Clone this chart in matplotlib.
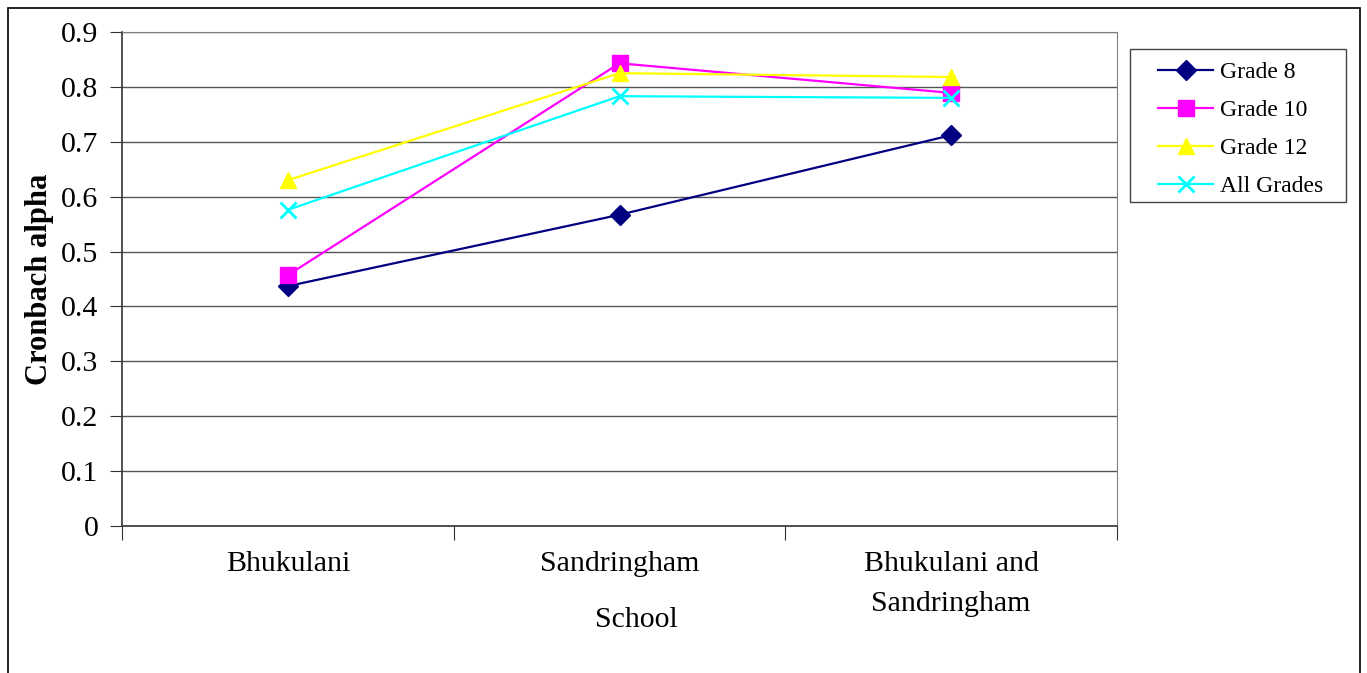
import matplotlib.pyplot as plt
from matplotlib.patches import Rectangle
import numpy as np

plt.rcParams['font.family'] = ['Liberation Serif', 'DejaVu Serif']

schools = ["Bhukulani", "Sandringham", "Bhukulani and\nSandringham"]
grade8 = [0.437, 0.567, 0.712]
grade10 = [0.457, 0.843, 0.789]
grade12 = [0.630, 0.825, 0.818]
all_grades = [0.576, 0.783, 0.780]

series = [
    ("Grade 8", grade8, "#000080", "D", 10),
    ("Grade 10", grade10, "#FF00FF", "s", 11),
    ("Grade 12", grade12, "#FFFF00", "^", 11),
    ("All Grades", all_grades, "#00FFFF", "x", 11),
]

W, H = 1367, 673
fig = plt.figure(figsize=(W / 100, H / 100), dpi=100)
ax = fig.add_axes([122 / W, 1 - 526 / H, 995 / W, 494 / H])

x = np.arange(len(schools))
for name, vals, col, mk, ms in series:
    ax.plot(x, vals, color=col, marker=mk, markersize=ms, linewidth=1.6,
            markeredgewidth=2 if mk == "x" else 1, markerfacecolor=col,
            markeredgecolor=col, label=name, zorder=3)

ax.set_xlim(-0.5, 2.5)
ax.set_ylim(0, 0.9)
ax.set_yticks(np.arange(0, 0.91, 0.1))
ax.set_yticklabels(["0"] + [f"{v:.1f}" for v in np.arange(0.1, 0.91, 0.1)])
ax.yaxis.grid(True, color="#555555", linewidth=1)
ax.set_axisbelow(True)

# category boundaries get tick marks, labels sit on the centres
ax.set_xticks([-0.5, 0.5, 1.5, 2.5])
ax.set_xticklabels([])
ax.set_xticks(x, minor=True)
ax.set_xticklabels(schools, minor=True, fontsize=21.5, linespacing=1.7)
ax.tick_params(axis="x", which="major", direction="out", length=10, color="#333333")
ax.tick_params(axis="x", which="minor", length=0, pad=18)
ax.tick_params(axis="y", direction="out", length=9, labelsize=21.5, pad=8, color="#333333")

for side in ["top", "right"]:
    ax.spines[side].set_color("#808080")
for side in ["left", "bottom"]:
    ax.spines[side].set_color("#333333")
    ax.spines[side].set_linewidth(1.2)

ax.set_ylabel("Cronbach alpha", fontsize=22, fontweight="bold", labelpad=5)
ax.set_xlabel("School", fontsize=21.5)
ax.xaxis.set_label_coords(0.517, -0.163)

leg = ax.legend(loc="upper left", bbox_to_anchor=((1146 - 122) / 995, (526 - 50) / 494),
                fontsize=17, frameon=False, handlelength=2.35, borderpad=0,
                labelspacing=0.7, handletextpad=0.27)

# legend box and outer frame
fig.patches.append(Rectangle((1130 / W, 1 - 202 / H), 216 / W, 153 / H,
                             transform=fig.transFigure, fill=False,
                             edgecolor="#444444", linewidth=1))
fig.patches.append(Rectangle((8 / W, -0.05), 1352 / W, 1.05 - 8 / H,
                             transform=fig.transFigure, fill=False,
                             edgecolor="black", linewidth=1.2))

fig.savefig("out.png", dpi=100)
